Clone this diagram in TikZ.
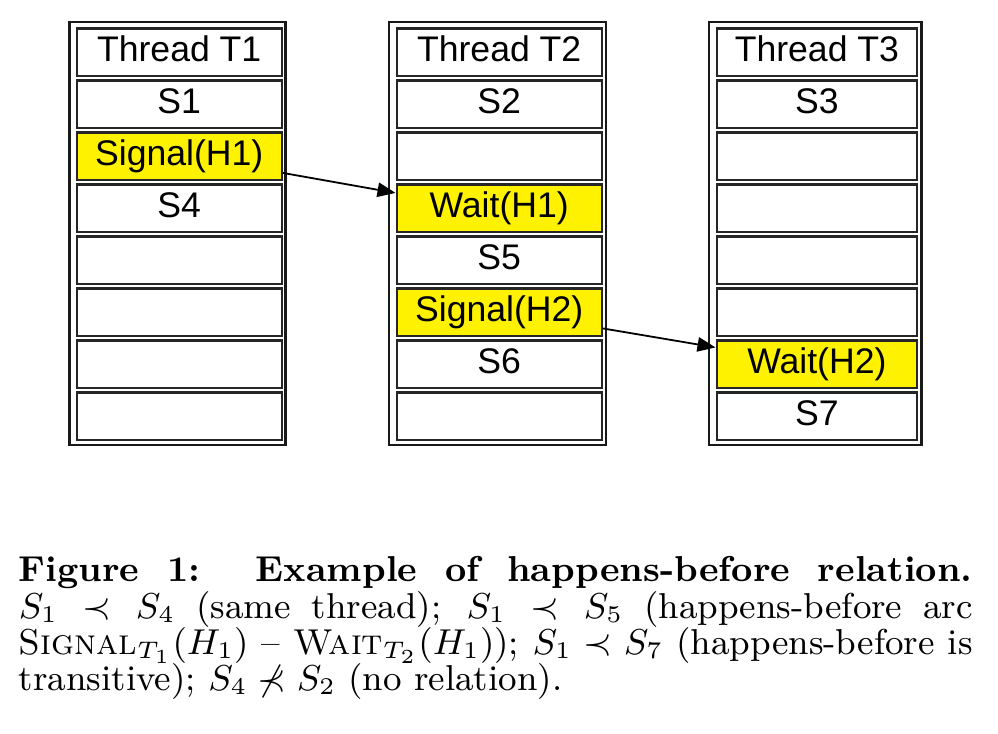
\documentclass[tikz,border=0pt]{standalone}
\usepackage{fontspec}
\newfontfamily\arialf{Liberation Sans}
\usetikzlibrary{arrows.meta,calc}
\begin{document}
\begin{tikzpicture}[x=0.25pt,y=-0.25pt,
  cell/.style={draw=black!85,line width=0.6pt,minimum width=51.25pt,minimum height=11.875pt,
    inner sep=0pt,anchor=north west,font={\fontsize{8.9}{10}\selectfont\arialf},
    text height=6.4pt,text depth=1.8pt},
  narrow/.style={minimum width=50.1pt},
  hl/.style={fill=yellow},
  outerbox/.style={draw=black!90,line width=0.55pt},
  arr/.style={line width=0.45pt,-{Triangle[length=4.5pt,width=3.6pt]}},
  captext/.style={anchor=base west,align=left,inner sep=0pt,font={\fontsize{9}{9.1}\selectfont}}]
\useasboundingbox (0,0) rectangle (998,734);
% outer boxes
\draw[outerbox] (69.5,22) rectangle (285.5,445);
\draw[outerbox] (389,22) rectangle (606,445);
\draw[outerbox] (709,22) rectangle (921.5,445);
% thread 1
\node[cell] (a0) at (75.5,27.5) {Thread T1};
\node[cell] (a1) at (75.5,79.5) {S1};
\node[cell,hl] (a2) at (75.5,131.5) {Signal(H1)};
\node[cell] (a3) at (75.5,183.5) {S4};
\node[cell] (a4) at (75.5,235.5) {};
\node[cell] (a5) at (75.5,287.5) {};
\node[cell] (a6) at (75.5,339.5) {};
\node[cell] (a7) at (75.5,391.5) {};
% thread 2
\node[cell] (b0) at (395.5,27.5) {Thread T2};
\node[cell] (b1) at (395.5,79.5) {S2};
\node[cell] (b2) at (395.5,131.5) {};
\node[cell,hl] (b3) at (395.5,183.5) {Wait(H1)};
\node[cell] (b4) at (395.5,235.5) {S5};
\node[cell,hl] (b5) at (395.5,287.5) {Signal(H2)};
\node[cell] (b6) at (395.5,339.5) {S6};
\node[cell] (b7) at (395.5,391.5) {};
% thread 3
\node[cell,narrow] (c0) at (715.5,27.5) {Thread T3};
\node[cell,narrow] (c1) at (715.5,79.5) {S3};
\node[cell,narrow] (c2) at (715.5,131.5) {};
\node[cell,narrow] (c3) at (715.5,183.5) {};
\node[cell,narrow] (c4) at (715.5,235.5) {};
\node[cell,narrow] (c5) at (715.5,287.5) {};
\node[cell,narrow,hl] (c6) at (715.5,339.5) {Wait(H2)};
\node[cell,narrow] (c7) at (715.5,391.5) {S7};
% arrows
\draw[arr] ($(a2.east)+(0,16.5)$) -- ($(b3.west)+(0,-15.5)$);
\draw[arr] ($(b5.east)+(0,16)$) -- ($(c6.west)+(0,-17)$);
% caption
\node[captext] (cap) at (18,691) {%
\makebox[238.5pt][s]{\textbf{Figure 1:\ \ Example of happens-before relation.}}\\
\makebox[238.5pt][s]{$S_1 \prec S_4$ (same thread); $S_1 \prec S_5$ (happens-before arc}\\
\makebox[238.5pt][s]{\textsc{Signal}$_{T_1}(H_1)$ -- \textsc{Wait}$_{T_2}(H_1)$); $S_1 \prec S_7$ (happens-before is}\\
transitive); $S_4 \not\prec S_2$ (no relation).};
\end{tikzpicture}
\end{document}
